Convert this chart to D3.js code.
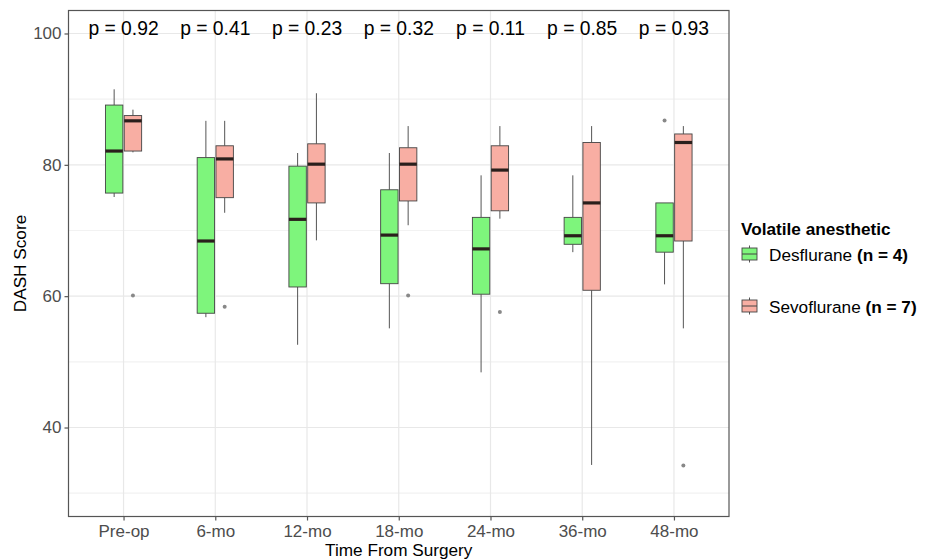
<!DOCTYPE html>
<html>
<head>
<meta charset="utf-8">
<script src="https://cdn.jsdelivr.net/npm/d3@7"></script>
<style>
  body { margin: 0; background: #fff; }
  svg { font-family: "Liberation Sans", Arial, sans-serif; }
</style>
</head>
<body>
<svg id="chart" width="928" height="560"></svg>
<script>
// ── Data ──
const categories = ["Pre-op", "6-mo", "12-mo", "18-mo", "24-mo", "36-mo", "48-mo"];
const pValues = ["0.92", "0.41", "0.23", "0.32", "0.11", "0.85", "0.93"];
const groups = ["Desflurane", "Sevoflurane"];
const groupN = [4, 7];
const yTicks = [40, 60, 80, 100];

// Desflurane box stats per time point
const desLow  = [75.1, 56.8, 52.6, 55.1, 48.4, 66.7, 61.8];
const desQ1   = [75.7, 57.4, 61.4, 61.9, 60.3, 67.9, 66.7];
const desMed  = [82.1, 68.4, 71.7, 69.3, 67.2, 69.2, 69.2];
const desQ3   = [89.1, 81.1, 79.8, 76.2, 72.0, 72.0, 74.2];
const desHigh = [91.5, 86.7, 81.8, 81.8, 78.4, 78.4, 74.2];

// Sevoflurane box stats per time point
const sevLow  = [81.9, 72.7, 68.5, 70.8, 71.8, 34.3, 55.1];
const sevQ1   = [82.1, 75.0, 74.2, 74.5, 73.0, 60.9, 68.4];
const sevMed  = [86.7, 80.9, 80.1, 80.1, 79.2, 74.2, 83.4];
const sevQ3   = [87.5, 82.9, 83.2, 82.6, 82.9, 83.4, 84.7];
const sevHigh = [88.4, 86.7, 90.9, 85.9, 85.9, 85.9, 85.9];

// Outliers: [category, group index, value]
const outliers = [
  ["Pre-op", 1, 60.1],
  ["6-mo", 1, 58.4],
  ["18-mo", 1, 60.1],
  ["24-mo", 1, 57.6],
  ["48-mo", 0, 86.75],
  ["48-mo", 1, 34.2]
];

const fills = ["#7ef57c", "#f8aea3"];

// ── Layout ──
const svg = d3.select("#chart");
const panel = { left: 68.5, right: 729, top: 10.5, bottom: 516.5 };

const x = d3.scalePoint()
  .domain(categories)
  .range([panel.left, panel.right])
  .padding(0.6);

const y = d3.scaleLinear()
  .domain([26.45, 103.5])
  .range([panel.bottom, panel.top]);

const boxW = 17.4;
const dodge = [-9.4, 9.4];

// ── Panel grid ──
const grid = svg.append("g");
const minorY = [30, 50, 70, 90];
grid.selectAll(".minor").data(minorY).join("line")
  .attr("x1", panel.left).attr("x2", panel.right)
  .attr("y1", d => y(d)).attr("y2", d => y(d))
  .attr("stroke", "#f2f2f2").attr("stroke-width", 1.2);
grid.selectAll(".majorY").data(yTicks).join("line")
  .attr("x1", panel.left).attr("x2", panel.right)
  .attr("y1", d => y(d)).attr("y2", d => y(d))
  .attr("stroke", "#e8e8e8").attr("stroke-width", 1.2);
grid.selectAll(".majorX").data(categories).join("line")
  .attr("x1", d => x(d)).attr("x2", d => x(d))
  .attr("y1", panel.top).attr("y2", panel.bottom)
  .attr("stroke", "#e8e8e8").attr("stroke-width", 1.2);

// ── Boxes ──
const stats = [
  categories.map((c, i) => ({ cat: c, g: 0, low: desLow[i], q1: desQ1[i], med: desMed[i], q3: desQ3[i], high: desHigh[i] })),
  categories.map((c, i) => ({ cat: c, g: 1, low: sevLow[i], q1: sevQ1[i], med: sevMed[i], q3: sevQ3[i], high: sevHigh[i] }))
].flat();

const boxes = svg.append("g").selectAll("g").data(stats).join("g")
  .attr("transform", d => `translate(${x(d.cat) + dodge[d.g]},0)`);

boxes.append("line")
  .attr("y1", d => y(d.high)).attr("y2", d => y(d.q3))
  .attr("stroke", "#555").attr("stroke-width", 1);
boxes.append("line")
  .attr("y1", d => y(d.q1)).attr("y2", d => y(d.low))
  .attr("stroke", "#555").attr("stroke-width", 1);
boxes.append("rect")
  .attr("x", -boxW / 2).attr("width", boxW)
  .attr("y", d => y(d.q3)).attr("height", d => y(d.q1) - y(d.q3))
  .attr("fill", d => fills[d.g])
  .attr("stroke", "#444").attr("stroke-width", 0.9);
boxes.append("line")
  .attr("x1", -boxW / 2).attr("x2", boxW / 2)
  .attr("y1", d => y(d.med)).attr("y2", d => y(d.med))
  .attr("stroke", "#2a1f1c").attr("stroke-width", 3.2);

// Outliers
svg.append("g").selectAll("circle").data(outliers).join("circle")
  .attr("cx", d => x(d[0]) + dodge[d[1]])
  .attr("cy", d => y(d[2]))
  .attr("r", 2)
  .attr("fill", "#888");

// ── p-values ──
svg.append("g").selectAll("text").data(categories).join("text")
  .attr("x", d => x(d))
  .attr("y", y(100) + 1.5)
  .attr("text-anchor", "middle")
  .attr("font-size", 19.3)
  .attr("fill", "#000")
  .text((d, i) => `p = ${pValues[i]}`);

// ── Panel border ──
svg.append("rect")
  .attr("x", panel.left).attr("y", panel.top)
  .attr("width", panel.right - panel.left)
  .attr("height", panel.bottom - panel.top)
  .attr("fill", "none").attr("stroke", "#555").attr("stroke-width", 1.2);

// ── Axes ──
const yAxis = svg.append("g")
  .attr("transform", `translate(${panel.left},0)`)
  .call(d3.axisLeft(y).tickValues(yTicks).tickSize(4).tickPadding(3));
const xAxis = svg.append("g")
  .attr("transform", `translate(0,${panel.bottom})`)
  .call(d3.axisBottom(x).tickSize(4).tickPadding(4));
[yAxis, xAxis].forEach(a => {
  a.select(".domain").remove();
  a.selectAll(".tick line").attr("stroke", "#555").attr("stroke-width", 1.2);
  a.selectAll(".tick text")
    .attr("fill", "#4d4d4d")
    .attr("font-size", 17)
    .attr("font-family", "Liberation Sans, Arial, sans-serif");
});

// Axis titles
svg.append("text")
  .attr("x", (panel.left + panel.right) / 2)
  .attr("y", 556)
  .attr("text-anchor", "middle")
  .attr("font-size", 17.2)
  .text("Time From Surgery");
svg.append("text")
  .attr("transform", `translate(26,${(panel.top + panel.bottom) / 2}) rotate(-90)`)
  .attr("text-anchor", "middle")
  .attr("font-size", 17.2)
  .text("DASH Score");

// ── Legend ──
const legend = svg.append("g").attr("transform", "translate(741,0)");
legend.append("text")
  .attr("x", 0).attr("y", 235)
  .attr("font-size", 17.2).attr("font-weight", "bold")
  .text("Volatile anesthetic");

const keyY = [254, 306];
const items = legend.selectAll(".item").data(groups).join("g")
  .attr("transform", (d, i) => `translate(0,${keyY[i]})`);
items.append("line")
  .attr("x1", 8.5).attr("x2", 8.5).attr("y1", -8.5).attr("y2", 8.5)
  .attr("stroke", "#555").attr("stroke-width", 1);
items.append("rect")
  .attr("x", 1).attr("y", -6).attr("width", 15).attr("height", 12)
  .attr("fill", (d, i) => fills[i])
  .attr("stroke", "#444").attr("stroke-width", 0.9);
items.append("line")
  .attr("x1", 1).attr("x2", 16).attr("y1", 0).attr("y2", 0)
  .attr("stroke", "#444").attr("stroke-width", 1);
const labels = items.append("text")
  .attr("x", 28).attr("y", 6.5)
  .attr("font-size", 17.2);
labels.append("tspan").text(d => d + " ");
labels.append("tspan").attr("font-weight", "bold").text((d, i) => `(n = ${groupN[i]})`);
</script>
</body>
</html>
